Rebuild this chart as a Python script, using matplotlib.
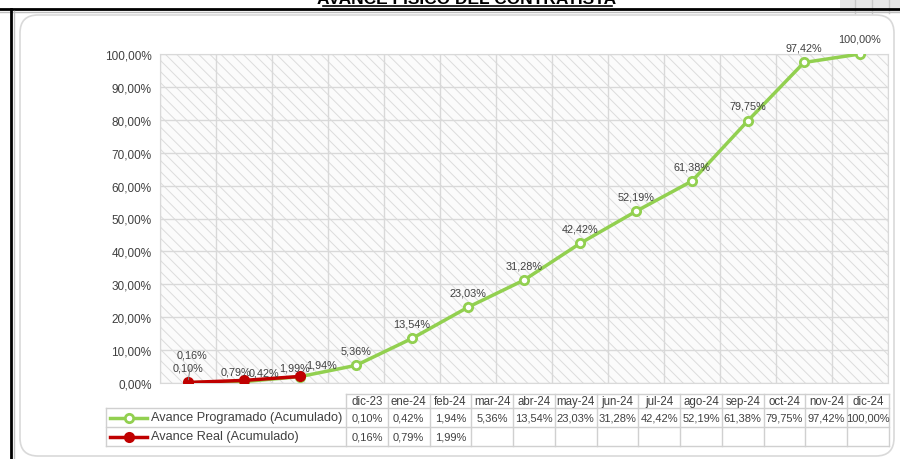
import numpy as np
import matplotlib
matplotlib.use("Agg")
import matplotlib.pyplot as plt
from matplotlib.patches import Rectangle, FancyBboxPatch
from matplotlib.ticker import FuncFormatter

plt.rcParams["font.family"] = ["Liberation Sans", "DejaVu Sans"]
plt.rcParams["hatch.linewidth"] = 0.7

# data
title = "AVANCE FISICO DEL CONTRATISTA"
months = ["dic-23", "ene-24", "feb-24", "mar-24", "abr-24", "may-24", "jun-24",
          "jul-24", "ago-24", "sep-24", "oct-24", "nov-24", "dic-24"]
programado = [0.10, 0.42, 1.94, 5.36, 13.54, 23.03, 31.28, 42.42, 52.19,
              61.38, 79.75, 97.42, 100.00]
real = [0.16, 0.79, 1.99]
name_prog = "Avance Programado (Acumulado)"
name_real = "Avance Real (Acumulado)"

green = "#92d050"
red = "#c00000"
txt = "#404040"
grid = "#d9d9d9"


def pct(v):
    return f"{v:.2f}".replace(".", ",") + "%"


W, H = 900, 460
fig = plt.figure(figsize=(W / 100, H / 100), dpi=100)

# overlay in pixel coords for frame, title and data table
ov = fig.add_axes([0, 0, 1, 1], zorder=0)
ov.set_xlim(0, W)
ov.set_ylim(H, 0)
ov.axis("off")

# spreadsheet bits behind the chart
ov.add_patch(Rectangle((840, 0), 60, 14, facecolor="#e6e6e6", edgecolor="none"))
for x in [855, 872, 889]:
    ov.plot([x, x], [0, 14], color="#c8c8c8", lw=1)
ov.plot([0, W], [10, 10], color="black", lw=2)
ov.plot([0, W], [12.5, 12.5], color="#bfbfbf", lw=1)
ov.plot([11, 11], [10, H], color="black", lw=2)
ov.plot([13.5, 13.5], [12, H], color="#bfbfbf", lw=1)

# chart area
ov.add_patch(FancyBboxPatch((20, 16), 874, 441,
                            boxstyle="round,pad=0,rounding_size=18",
                            facecolor="white", edgecolor="#d9d9d9", lw=1.2))

# title (cut off by the top edge, as in the sheet)
ov.text(467, 4.5, title, ha="center", va="baseline", fontsize=12.5,
        fontweight="bold", color="black")
ov.plot([323, 612], [6.8, 6.8], color="black", lw=1.2)

# main plot
x0, x1, y0, y1 = 160, 888, 55, 384
ax = fig.add_axes([x0 / W, 1 - y1 / H, (x1 - x0) / W, (y1 - y0) / H], zorder=2)
ax.patch.set_alpha(0)
ax.add_patch(Rectangle((0, 0), 1, 1, transform=ax.transAxes, facecolor="#fbfbfb",
                       edgecolor="#dcdcdc", hatch="\\\\\\", lw=0, zorder=0))
n = len(months)
xs = np.arange(n)
ax.set_xlim(-0.5, n - 0.5)
ax.set_ylim(0, 100)
ax.set_yticks(np.arange(0, 101, 10))
ax.yaxis.set_major_formatter(FuncFormatter(lambda v, p: pct(v)))
ax.set_xticks([])
ax.set_xticks(np.arange(-0.5, n, 1), minor=True)
ax.tick_params(axis="y", length=0, pad=6, labelsize=8.5, labelcolor=txt)
ax.tick_params(axis="x", which="both", length=0, labelbottom=False)
ax.grid(axis="y", color=grid, lw=1, zorder=1)
ax.grid(axis="x", which="minor", color=grid, lw=1, zorder=1)
for s in ax.spines.values():
    s.set_color(grid)

ax.plot(xs, programado, color=green, lw=2.5, marker="o", ms=6,
        mfc="white", mec=green, mew=2, zorder=3)
ax.plot(xs[:len(real)], real, color=red, lw=2.5, marker="o", ms=7,
        mfc=red, mec=red, zorder=4)

# data labels (pixel offsets from the point, y down)
prog_off = {1: (20, -9), 2: (22, -12.5)}
for i, v in enumerate(programado):
    dx, dy = prog_off.get(i, (0, -15))
    ax.annotate(pct(v), (xs[i], v), xytext=(dx, -dy), textcoords="offset pixels",
                ha="center", va="center", fontsize=7.8, color=txt, zorder=5)
real_off = [(4, -28), (-8, -9), (-5, -8.5)]
for i, v in enumerate(real):
    dx, dy = real_off[i]
    ax.annotate(pct(v), (xs[i], v), xytext=(dx, -dy), textcoords="offset pixels",
                ha="center", va="center", fontsize=7.8, color=txt, zorder=5,
                arrowprops=dict(arrowstyle="-", color="#808080", lw=0.7,
                                shrinkA=5, shrinkB=2) if i == 0 else None)

# data table
tl, tc, tr = 106, 346, 889
rows = [395, 409, 428, 447]
cw = (tr - tc) / n
tcol = "#d0d0d0"
ov.plot([tc, tr], [rows[0], rows[0]], color=tcol, lw=1)
for r in rows[1:]:
    ov.plot([tl, tr], [r, r], color=tcol, lw=1)
ov.plot([tl, tl], [rows[1], rows[3]], color=tcol, lw=1)
for j in range(n + 1):
    ov.plot([tc + j * cw] * 2, [rows[0], rows[3]], color=tcol, lw=1)

for j, m in enumerate(months):
    cx = tc + (j + 0.5) * cw
    ov.text(cx, (rows[0] + rows[1]) / 2, m, ha="center", va="center",
            fontsize=8.3, color=txt)
    ov.text(cx, (rows[1] + rows[2]) / 2, pct(programado[j]), ha="center",
            va="center", fontsize=8, color=txt)
    if j < len(real):
        ov.text(cx, (rows[2] + rows[3]) / 2, pct(real[j]), ha="center",
                va="center", fontsize=8, color=txt)

for k, (name, col, face) in enumerate([(name_prog, green, "white"),
                                       (name_real, red, red)]):
    cy = (rows[k + 1] + rows[k + 2]) / 2
    ov.plot([110, 147], [cy, cy], color=col, lw=2.5)
    ov.plot([128.5], [cy], marker="o", ms=6, mfc=face, mec=col, mew=2)
    ov.text(151, cy, name, ha="left", va="center", fontsize=9.2, color=txt)

fig.savefig("out.png", dpi=100)
